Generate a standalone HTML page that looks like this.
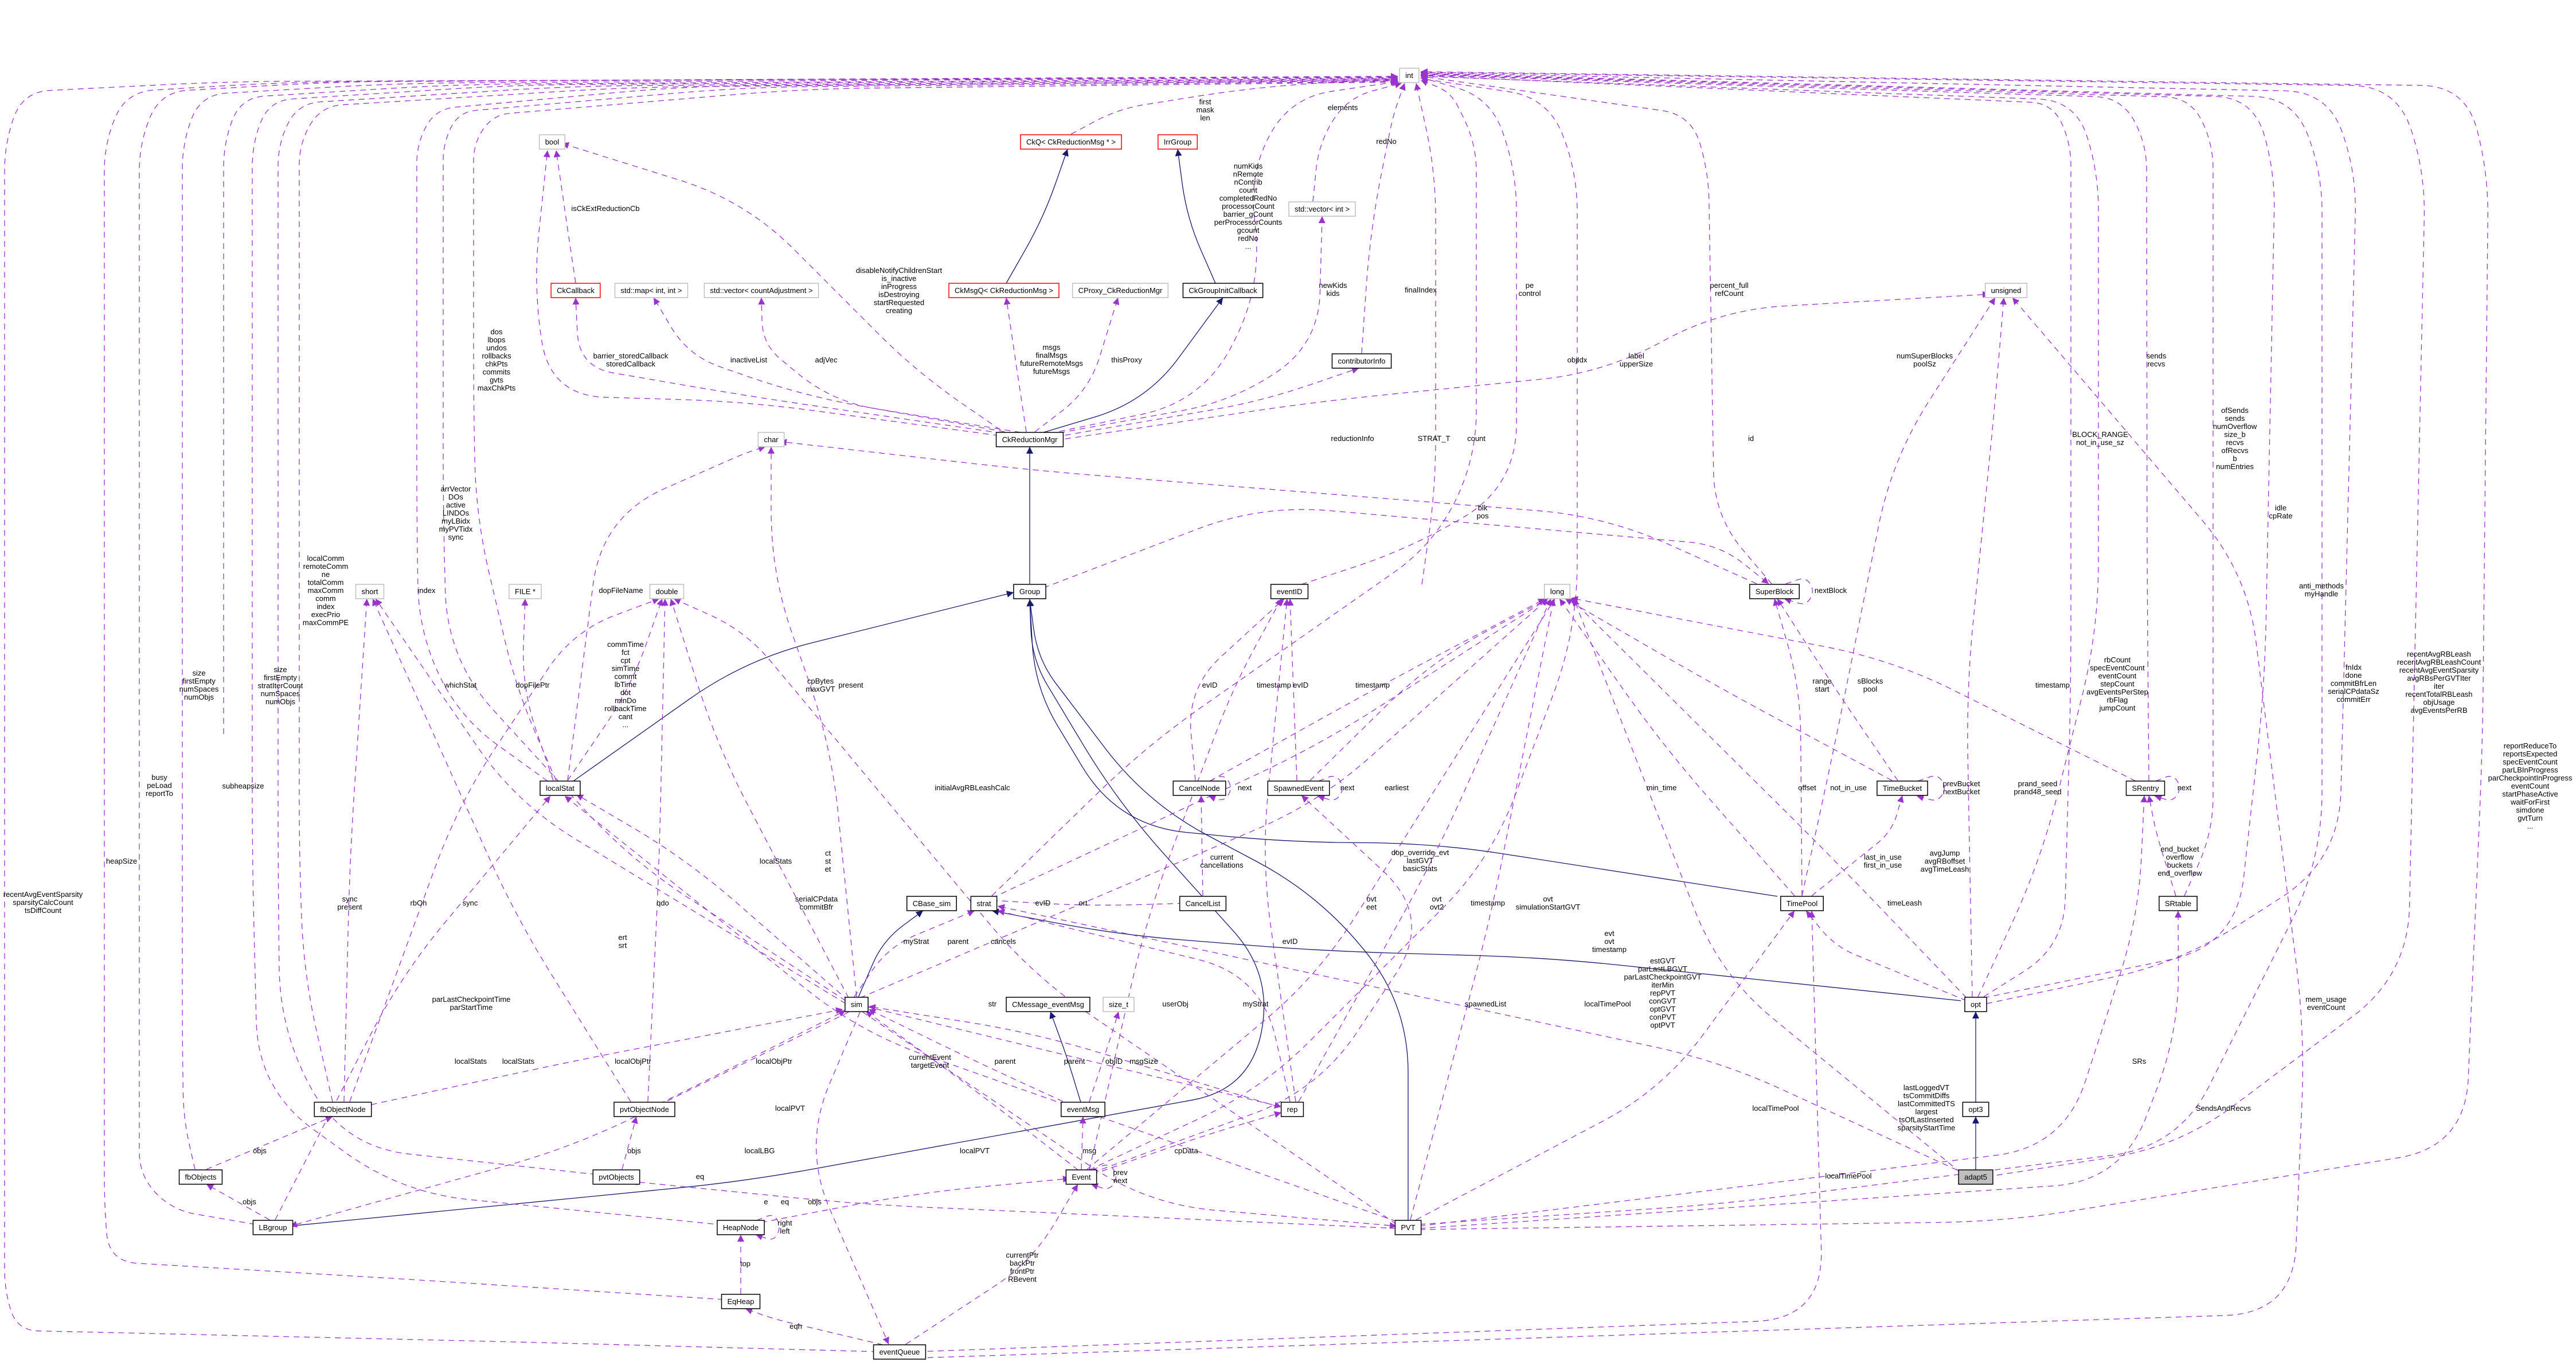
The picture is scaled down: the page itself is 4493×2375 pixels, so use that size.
<!DOCTYPE html>
<html><head><meta charset="utf-8">
<style>
html,body{margin:0;padding:0;background:#fff;overflow:hidden;width:4493px;height:2375px;}
svg{display:block;}
text{font-family:"Liberation Sans",sans-serif;font-size:13px;fill:#000;}
</style></head>
<body>
<svg id="s" xmlns="http://www.w3.org/2000/svg" width="4493" height="2375" viewBox="0 0 4493 2375">
<defs>
<marker id="ap" viewBox="0 0 10 10" refX="10" refY="5" markerWidth="12" markerHeight="12" markerUnits="userSpaceOnUse" orient="auto"><path d="M0,0 L10,5 L0,10 z" fill="#9a32cd"/></marker>
<marker id="an" viewBox="0 0 10 10" refX="10" refY="5" markerWidth="12" markerHeight="12" markerUnits="userSpaceOnUse" orient="auto"><path d="M0,0 L10,5 L0,10 z" fill="#191970"/></marker>
</defs>
<g id="edges"></g>
<g id="labels"></g>
<g id="nodes"></g>
</svg>
<script>
var NS="http://www.w3.org/2000/svg";
var N={int:[2458,131,'g','int'],bool:[963,247,'g','bool'],CkQ:[1868,247,'r','CkQ< CkReductionMsg * >'],IrrGroup:[2054,247,'r','IrrGroup'],
svi:[2306,364,'g','std::vector< int >'],CkCallback:[1004,506,'r','CkCallback'],map:[1136,506,'g','std::map< int, int >'],
vadj:[1328,506,'g','std::vector< countAdjustment >'],CkMsgQ:[1751,506,'r','CkMsgQ< CkReductionMsg >'],CProxy:[1954,506,'g','CProxy_CkReductionMgr'],
CkGIC:[2133,506,'b','CkGroupInitCallback'],unsigned:[3499,506,'g','unsigned'],contrib:[2375,629,'b','contributorInfo'],
CkRM:[1796,766,'b','CkReductionMgr'],char:[1345,766,'g','char'],short:[645,1031,'g','short'],FILE:[916,1031,'g','FILE *'],
double:[1163,1031,'g','double'],Group:[1796,1031,'b','Group'],eventID:[2249,1031,'b','eventID'],long:[2716,1031,'g','long'],
SuperBlock:[3095,1031,'b','SuperBlock'],localStat:[977,1374,'b','localStat'],CancelNode:[2092,1374,'b','CancelNode'],
SpawnedEvent:[2265,1374,'b','SpawnedEvent'],TimeBucket:[3318,1374,'b','TimeBucket'],SRentry:[3742,1374,'b','SRentry'],
CBase_sim:[1625,1575,'b','CBase_sim'],strat:[1716,1575,'b','strat'],CancelList:[2098,1575,'b','CancelList'],TimePool:[3143,1575,'b','TimePool'],
SRtable:[3799,1575,'b','SRtable'],sim:[1494,1751,'b','sim'],CMsg:[1828,1751,'b','CMessage_eventMsg'],size_t:[1951,1751,'g','size_t'],
opt:[3446,1751,'b','opt'],fbObjectNode:[598,1934,'b','fbObjectNode'],pvtObjectNode:[1124,1934,'b','pvtObjectNode'],eventMsg:[1889,1934,'b','eventMsg'],
rep:[2254,1934,'b','rep'],opt3:[3446,1934,'b','opt3'],fbObjects:[350,2052,'b','fbObjects'],pvtObjects:[1075,2052,'b','pvtObjects'],
Event:[1886,2052,'b','Event'],adapt5:[3446,2052,'f','adapt5'],LBgroup:[476,2140,'b','LBgroup'],HeapNode:[1292,2140,'b','HeapNode'],
PVT:[2456,2140,'b','PVT'],EqHeap:[1292,2269,'b','EqHeap'],eventQueue:[1569,2357,'b','eventQueue']};

function cr(p){
  var d='M'+p[0][0]+','+p[0][1];
  if(p.length==2) return d+' L'+p[1][0]+','+p[1][1];
  function len(a,b){var dx=b[0]-a[0],dy=b[1]-a[1];return Math.sqrt(dx*dx+dy*dy)||1;}
  for(var i=1;i<p.length-1;i++){
    var a=p[i-1],b=p[i],c=p[i+1];
    var l1=len(a,b),l2=len(b,c);
    var r=Math.min(120,l1/2,l2/2);
    var s=[b[0]-(b[0]-a[0])/l1*r,b[1]-(b[1]-a[1])/l1*r];
    var t=[b[0]+(c[0]-b[0])/l2*r,b[1]+(c[1]-b[1])/l2*r];
    d+=' L'+s[0].toFixed(1)+','+s[1].toFixed(1)+' Q'+b[0]+','+b[1]+' '+t[0].toFixed(1)+','+t[1].toFixed(1);
  }
  var z=p[p.length-1];
  return d+' L'+z[0]+','+z[1];
}
var E=document.getElementById('edges');
function e(pts,solid){
  var p=document.createElementNS(NS,'path');
  p.setAttribute('d',cr(pts));p.setAttribute('fill','none');
  p.setAttribute('stroke',solid?'#191970':'#9a32cd');p.setAttribute('stroke-width','1.3');
  if(!solid)p.setAttribute('stroke-dasharray','10,8');
  p.setAttribute('marker-end',solid?'url(#an)':'url(#ap)');
  E.appendChild(p);
}
e([[1755,494],[1820,380],[1862,260]],1);
e([[2120,494],[2070,380],[2054,260]],1);
e([[1820,754],[2000,700],[2133,519]],1);
e([[1796,1018],[1796,779]],1);
e([[1000,1362],[1300,1150],[1768,1033]],1);
e([[505,2138],[1300,2060],[2180,1900],[2220,1700],[1950,1400],[1800,1150],[1796,1045]],1);
e([[2456,2128],[2456,1750],[2300,1560],[2000,1400],[1810,1150],[1796,1045]],1);
e([[3100,1563],[2500,1470],[2250,1469],[1950,1440],[1805,1200],[1796,1045]],1);
e([[3420,1745],[2700,1670],[2300,1658],[1950,1630],[1730,1588]],1);
e([[1497,1739],[1540,1640],[1610,1588]],1);
e([[1885,1922],[1860,1840],[1832,1764]],1);
e([[3446,1922],[3446,1764]],1);
e([[3446,2040],[3446,1947]],1);
var I=[
[[1530,2357],[900,2340],[30,2320],[8,2250],[8,250],[40,160],[400,142],[2438,136]],
[[1262,2266],[700,2230],[190,2200],[182,2100],[182,250],[220,160],[500,143],[2438,134]],
[[445,2135],[300,2110],[243,2050],[243,250],[280,160],[600,142],[2438,133]],
[[340,2039],[320,1950],[318,1800],[318,250],[350,165],[700,145],[2438,135]],
[[390,1280],[390,250],[420,170],[800,147],[2438,137]],
[[1262,2136],[700,2080],[450,1900],[440,1500],[440,250],[470,175],[900,148],[2438,138]],
[[1040,2048],[600,2000],[488,1800],[485,1500],[485,250],[520,180],[1000,150],[2438,139]],
[[580,1921],[530,1700],[522,1500],[522,250],[560,185],[1100,152],[2438,140]],
[[955,1362],[800,1250],[730,1100],[727,900],[727,250],[760,190],[1200,150],[2438,141]],
[[1475,1745],[1100,1500],[780,1150],[773,900],[773,250],[800,195],[1300,152],[2438,142]],
[[970,1361],[900,1200],[830,900],[826,700],[826,250],[860,200],[1400,155],[2438,143]],
[[1868,234],[1950,190],[2200,150],[2438,138]],
[[2375,616],[2390,400],[2430,200],[2450,145]],
[[2290,351],[2300,250],[2350,170],[2445,145]],
[[1830,756],[2100,700],[2200,500],[2180,300],[2250,170],[2440,142]],
[[2270,1019],[2450,960],[2645,850],[2645,300],[2600,170],[2478,135]],
[[1900,2040],[2200,1900],[2600,1500],[2751,1100],[2751,300],[2700,170],[2478,137]],
[[1730,1562],[2000,1300],[2500,950],[2575,800],[2575,250],[2530,160],[2478,140]],
[[2480,1019],[2504,850],[2504,300],[2470,145]],
[[3090,1018],[2990,900],[2980,300],[2950,200],[2478,133]],
[[3460,1738],[3600,1650],[3612,1200],[3612,250],[3580,180],[2478,132]],
[[3748,1361],[3745,1000],[3744,250],[3700,170],[2478,131]],
[[3810,1562],[3860,1450],[3860,250],[3820,170],[2478,130]],
[[3460,1740],[3900,1650],[3950,1200],[3968,300],[3930,170],[2478,129]],
[[2476,2135],[3000,2100],[3800,2000],[4050,1500],[4050,300],[4000,170],[2478,128]],
[[3465,1750],[3800,1680],[4080,1500],[4110,300],[4060,160],[2478,127]],
[[3465,2052],[3800,2000],[4200,1700],[4230,300],[4180,150],[2478,126]],
[[2476,2144],[3500,2130],[4300,2000],[4330,1300],[4340,300],[4300,150],[2478,125]],
[[3450,1738],[3560,1500],[3660,1100],[3660,300],[3620,175],[2478,133]]
];
I.forEach(function(p){e(p)});
var D=[
[[1004,493],[990,400],[970,262]],
[[1760,760],[1600,650],[1300,350],[980,250]],
[[1760,762],[1300,700],[960,690],[930,500],[955,262]],
[[1765,758],[1300,690],[1010,640],[1004,519]],
[[1770,756],[1400,690],[1200,620],[1140,519]],
[[1780,754],[1450,700],[1330,600],[1328,519]],
[[1790,753],[1770,620],[1755,519]],
[[1805,753],[1900,680],[1950,519]],
[[1840,762],[2200,700],[2370,642]],
[[1830,758],[2150,700],[2300,600],[2306,377]],
[[1840,768],[2300,700],[2800,650],[3000,540],[3470,513]],
[[3440,1738],[3430,1200],[3480,700],[3495,519]],
[[3143,1562],[3200,1300],[3300,800],[3480,519]],
[[1600,2368],[4000,2290],[4020,1800],[3920,1000],[3510,519]],
[[990,1361],[1050,900],[1300,790],[1335,779]],
[[3080,1025],[2800,900],[1800,820],[1360,770]],
[[1494,1738],[1450,1300],[1345,1000],[1345,779]],
[[600,1921],[610,1500],[640,1044]],
[[1100,1921],[900,1600],[650,1044]],
[[1475,1750],[900,1400],[655,1044]],
[[965,1361],[910,1200],[916,1044]],
[[990,1361],[1100,1200],[1155,1044]],
[[1130,1921],[1150,1500],[1160,1044]],
[[1480,1740],[1250,1300],[1170,1044]],
[[610,1921],[800,1400],[1000,1100],[1150,1044]],
[[2436,2135],[1800,1700],[1300,1100],[1175,1044]],
[[480,2127],[700,1700],[960,1388]],
[[2436,2130],[1500,1800],[1000,1400],[985,1388]],
[[1480,1745],[1200,1500],[1005,1385]],
[[630,1930],[1000,1850],[1470,1760]],
[[1150,1925],[1300,1850],[1475,1762]],
[[1870,1928],[1700,1850],[1515,1760]],
[[1880,2040],[1700,1900],[1510,1763]],
[[2230,1930],[1800,1800],[1515,1755]],
[[1490,1738],[1550,1650],[1700,1588]],
[[2250,1921],[2200,1700],[1740,1588]],
[[1730,1570],[1900,1580],[2070,1575]],
[[2098,1562],[2095,1387]],
[[2085,1361],[2070,1200],[2240,1044]],
[[2262,1361],[2250,1044]],
[[1900,2040],[2000,1600],[2150,1200],[2235,1044]],
[[2260,1921],[2200,1500],[2245,1044]],
[[1905,2045],[2300,1900],[2500,1600],[2270,1387]],
[[2285,1361],[2500,1150],[2700,1044]],
[[3130,1562],[2900,1300],[2720,1044]],
[[3300,1361],[3000,1200],[2730,1044]],
[[3430,1740],[3200,1500],[2740,1044]],
[[3420,2045],[3000,1700],[2745,1044]],
[[2460,2127],[2600,1600],[2710,1044]],
[[2265,1921],[2500,1500],[2705,1044]],
[[1730,1566],[2300,1300],[2700,1044]],
[[1895,2040],[2300,1700],[2712,1044]],
[[1500,1740],[2300,1400],[2700,1044]],
[[3725,1362],[3300,1150],[2740,1043]],
[[2110,1362],[2400,1200],[2695,1044]],
[[3310,1361],[3200,1200],[3100,1044]],
[[3143,1562],[3140,1200],[3095,1044]],
[[1820,1025],[2200,880],[3000,950],[3085,1018]],
[[3795,1562],[3760,1450],[3748,1387]],
[[2476,2138],[3600,2000],[3730,1600],[3740,1387]],
[[2476,2142],[3700,2060],[3800,1800],[3799,1588]],
[[3160,1562],[3300,1450],[3318,1387]],
[[2470,2127],[2900,1900],[3130,1588]],
[[3430,1745],[3200,1650],[3150,1588]],
[[1600,2357],[3180,2300],[3160,1588]],
[[1905,2048],[2100,1980],[2235,1940]],
[[1510,1755],[1900,1850],[2235,1930]],
[[1886,2039],[1889,1947]],
[[1900,1921],[1940,1800],[1951,1764]],
[[1580,2344],[1800,2200],[1880,2065]],
[[1310,2135],[1600,2080],[1866,2055]],
[[2436,2142],[1500,2100],[1100,2060]],
[[1085,2039],[1110,1947]],
[[360,2039],[580,1947]],
[[470,2127],[360,2065]],
[[1292,2256],[1292,2153]],
[[1540,2345],[1350,2300],[1300,2282]],
[[1500,1765],[1400,2000],[1550,2344]],
[[1505,1765],[2000,2100],[2436,2138]],
[[1480,1765],[1000,2000],[506,2138]],
[[3430,2048],[3000,1850],[1740,1580]],
[[2110,1362],[2135,1350],[2150,1374],[2135,1398],[2108,1388]],
[[2300,1362],[2330,1350],[2345,1374],[2330,1398],[2298,1388]],
[[3345,1362],[3380,1350],[3395,1374],[3380,1398],[3343,1388]],
[[3760,1362],[3790,1350],[3805,1374],[3790,1398],[3758,1388]],
[[3115,1018],[3150,1006],[3165,1031],[3150,1056],[3112,1044]],
[[1905,2040],[1935,2028],[1950,2052],[1935,2076],[1903,2065]],
[[1320,2128],[1350,2116],[1362,2140],[1350,2164],[1318,2153]]
];
D.forEach(function(p){e(p)});

var L=document.getElementById('labels');
function t(x,y,s){var a=s.split('|');a.forEach(function(w,i){var q=document.createElementNS(NS,'text');q.setAttribute('x',x);q.setAttribute('y',y+i*14);q.setAttribute('text-anchor','middle');q.textContent=w;L.appendChild(q);});}
[[2102,182,'first|mask|len'],[2342,192,'elements'],[2418,251,'redNo'],
[2177,294,'numKids|nRemote|nContrib|count|completedRedNo|processorCount|barrier_gCount|perProcessorCounts|gcount|redNo|...'],
[2325,502,'newKids|kids'],[2478,510,'finalIndex'],[2668,502,'pe|control'],[2751,632,'objIdx'],[3016,502,'percent_full|refCount'],
[1056,368,'isCkExtReductionCb'],[1568,476,'disableNotifyChildrenStart|is_inactive|inProgress|isDestroying|startRequested|creating'],
[1100,625,'barrier_storedCallback|storedCallback'],[1306,632,'inactiveList'],[1441,632,'adjVec'],[1834,610,'msgs|finalMsgs|futureRemoteMsgs|futureMsgs'],
[1965,632,'thisProxy'],[2854,625,'label|upperSize'],[3357,625,'numSuperBlocks|poolSz'],[3761,625,'sends|recvs'],
[2359,769,'reductionInfo'],[2501,769,'STRAT_T'],[2575,769,'count'],[3054,769,'id'],[3663,762,'BLOCK_RANGE|not_in_use_sz'],
[3898,720,'ofSends|sends|numOverflow|size_b|recvs|ofRecvs|b|numEntries'],[2586,890,'blk|pos'],[3978,890,'idle|cpRate'],
[866,583,'dos|lbops|undos|rollbacks|chkPts|commits|gvts|maxChkPts'],[795,857,'arrVector|DOs|active|LINDOs|myLBidx|myPVTidx|sync'],
[568,978,'localComm|remoteComm|ne|totalComm|maxComm|comm|index|execPrio|maxCommPE'],[744,1034,'index'],[1083,1034,'dopFileName'],
[3193,1034,'nextBlock'],[4049,1026,'anti_methods|myHandle'],[1091,1128,'commTime|fct|cpt|simTime|commt|lbTime|dot|minDo|rollbackTime|cant|...'],
[347,1178,'size|firstEmpty|numSpaces|numObjs'],[489,1172,'size|firstEmpty|stratIterCount|numSpaces|numObjs'],
[803,1199,'whichStat'],[929,1199,'dopFilePtr'],[1431,1192,'cpBytes|maxGVT'],[1484,1199,'present'],[2110,1199,'evID'],[2237,1199,'timestamp evID'],
[2394,1199,'timestamp'],[3178,1192,'range|start'],[3262,1192,'sBlocks|pool'],[3580,1199,'timestamp'],
[3693,1155,'rbCount|specEventCount|eventCount|stepCount|avgEventsPerStep|rbFlag|jumpCount'],
[4105,1168,'fnIdx|done|commitBfrLen|serialCPdataSz|commitErr'],
[4254,1145,'recentAvgRBLeash|recentAvgRBLeashCount|recentAvgEventSparsity|avgRBsPerGVTIter|iter|recentTotalRBLeash|objUsage|avgEventsPerRB'],
[4413,1305,'reportReduceTo|reportsExpected|specEventCount|parLBInProgress|parCheckpointInProgress|eventCount|startPhaseActive|waitForFirst|simdone|gvtTurn|...'],
[278,1360,'busy|peLoad|reportTo'],[424,1375,'subheapsize'],[1696,1378,'initialAvgRBLeashCalc'],[2171,1378,'next'],[2350,1378,'next'],
[2436,1378,'earliest'],[2898,1378,'min_time'],[3152,1378,'offset'],[3224,1378,'not_in_use'],[3421,1371,'prevBucket|nextBucket'],
[3554,1371,'prand_seed|prand48_seed'],[3810,1378,'next'],[212,1506,'heapSize'],[2131,1499,'current|cancellations'],
[2477,1491,'dop_override_evt|lastGVT|basicStats'],[3284,1499,'last_in_use|first_in_use'],[3392,1492,'avgJump|avgRBoffset|avgTimeLeash'],
[3802,1485,'end_bucket|overflow|buckets|end_overflow'],[1353,1506,'localStats'],[1444,1492,'ct|st|et'],
[75,1564,'recentAvgEventSparsity|sparsityCalcCount|tsDiffCount'],[2392,1572,'ovt|eet'],[2506,1572,'ovt|ovt2'],[2595,1579,'timestamp'],
[2700,1572,'ovt|simulationStartGVT'],[3322,1579,'timeLeash'],[1424,1572,'serialCPdata|commitBfr'],[1819,1579,'evID'],[1889,1579,'ort'],
[610,1572,'sync|present'],[730,1579,'rbOh'],[820,1579,'sync'],[1156,1579,'qdo'],[1598,1646,'myStrat'],[1671,1646,'parent'],[1750,1646,'cancels'],
[2250,1646,'evID'],[1086,1639,'ert|srt'],[2807,1632,'evt|ovt|timestamp'],[822,1747,'parLastCheckpointTime|parStartTime'],[1731,1755,'str'],
[2050,1755,'userObj'],[2190,1755,'myStrat'],[2591,1755,'spawnedList'],[2804,1755,'localTimePool'],
[2900,1680,'estGVT|parLastLBGVT|parLastCheckpointGVT|iterMin|repPVT|conGVT|optGVT|conPVT|optPVT'],[4057,1747,'mem_usage|eventCount'],
[821,1855,'localStats'],[904,1855,'localStats'],[1104,1855,'localObjPtr'],[1350,1855,'localObjPtr'],[1622,1848,'currentEvent|targetEvent'],
[1753,1855,'parent'],[1874,1855,'parent'],[1943,1855,'objID'],[1995,1855,'msgSize'],[3731,1855,'SRs'],
[3360,1901,'lastLoggedVT|tsCommitDiffs|lastCommittedTS|largest|tsOfLastInserted|sparsityStartTime'],[3097,1937,'localTimePool'],
[3878,1937,'SendsAndRecvs'],[1378,1937,'localPVT'],[1325,2011,'localLBG'],[1700,2011,'localPVT'],[2069,2011,'cpData'],[453,2011,'objs'],
[1106,2011,'objs'],[1900,2011,'msg'],[1954,2049,'prev|next'],[1221,2056,'eq'],[3224,2055,'localTimePool'],[435,2100,'objs'],[1336,2100,'e'],
[1369,2100,'eq'],[1421,2100,'objs'],[1369,2137,'right|left'],[1300,2208,'top'],[1783,2193,'currentPtr|backPtr|frontPtr|RBevent'],[1388,2317,'eqh']
].forEach(function(a){t(a[0],a[1],a[2])});

var G=document.getElementById('nodes');
for(var k in N){var n=N[k];
 var tx=document.createElementNS(NS,'text');tx.setAttribute('x',n[0]);tx.setAttribute('y',n[1]+5);tx.setAttribute('text-anchor','middle');tx.textContent=n[3];
 var r=document.createElementNS(NS,'rect');G.appendChild(r);G.appendChild(tx);
 var w=tx.getComputedTextLength()+20;
 r.setAttribute('x',n[0]-w/2);r.setAttribute('y',n[1]-12);r.setAttribute('width',w);r.setAttribute('height',25);
 r.setAttribute('fill',n[2]=='f'?'#bfbfbf':'#fff');
 r.setAttribute('stroke',n[2]=='g'?'#bfbfbf':n[2]=='r'?'#ff0000':'#000');r.setAttribute('stroke-width','1.5');
}
</script>
</body></html>
